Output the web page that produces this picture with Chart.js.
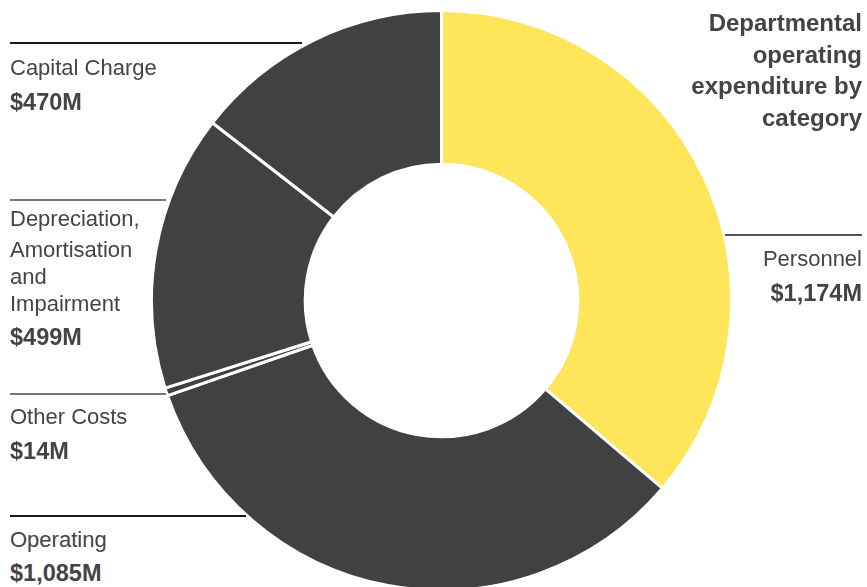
<!DOCTYPE html>
<html>
<head>
<meta charset="utf-8">
<script src="https://cdn.jsdelivr.net/npm/chart.js@4"></script>
<style>
  html, body { margin: 0; padding: 0; background: #fff; overflow: hidden; }
  body { width: 867px; height: 587px; position: relative; font-family: "Liberation Sans", Arial, sans-serif; color: #444446; }
  #wrap { position: absolute; left: 150px; top: 9px; width: 583px; height: 583px; }
  .t { position: absolute; white-space: nowrap; font-size: 22px; line-height: 30px; }
  .v { font-weight: bold; font-size: 23.5px; }
  .r { text-align: right; right: 5px; }
  .title { position: absolute; right: 5px; top: 7px; text-align: right; font-weight: bold; font-size: 24px; line-height: 31.5px; }
  .ln { position: absolute; height: 1.5px; }
</style>
</head>
<body>
<div id="wrap"><canvas id="donut"></canvas></div>

<div class="title">Departmental<br>operating<br>expenditure by<br>category</div>

<div class="ln" style="left:10px; top:42px; width:292px; background:#1a1a1a"></div>
<div class="t" style="left:10px; top:53px">Capital Charge</div>
<div class="t v" style="left:10px; top:87px">$470M</div>

<div class="ln" style="left:10px; top:199px; width:156px; background:#777"></div>
<div class="t" style="left:10px; top:204px">Depreciation,</div>
<div class="t" style="left:10px; top:235px">Amortisation</div>
<div class="t" style="left:10px; top:262px">and</div>
<div class="t" style="left:10px; top:289px">Impairment</div>
<div class="t v" style="left:10px; top:322px">$499M</div>

<div class="ln" style="left:10px; top:393px; width:156px; background:#777"></div>
<div class="t" style="left:10px; top:402px">Other Costs</div>
<div class="t v" style="left:10px; top:436px">$14M</div>

<div class="ln" style="left:10px; top:515px; width:236px; background:#1a1a1a"></div>
<div class="t" style="left:10px; top:525px">Operating</div>
<div class="t v" style="left:10px; top:558px">$1,085M</div>

<div class="ln" style="left:725px; top:234px; width:137px; background:#555"></div>
<div class="t r" style="top:244px">Personnel</div>
<div class="t v r" style="top:278px">$1,174M</div>

<script>
// ===============================
// DATOS
// ===============================
const categorias = ["Personnel", "Operating", "Other Costs", "Depreciation, Amortisation and Impairment", "Capital Charge"];
const valores = [1174, 1085, 14, 499, 470];
const colores = ["#fee55a", "#414042", "#414042", "#414042", "#414042"];

// ===============================
// GRAFICO
// ===============================
new Chart(document.getElementById("donut"), {
  type: "doughnut",
  data: {
    labels: categorias,
    datasets: [
      {
        data: valores,
        backgroundColor: colores,
        borderColor: "#fff",
        borderWidth: 3,
        borderAlign: "center",
      },
    ],
  },
  options: {
    responsive: true,
    maintainAspectRatio: false,
    animation: false,
    cutout: "47%",
    layout: { padding: 0 },
    plugins: { legend: { display: false }, tooltip: { enabled: false } },
  },
});
</script>
</body>
</html>
